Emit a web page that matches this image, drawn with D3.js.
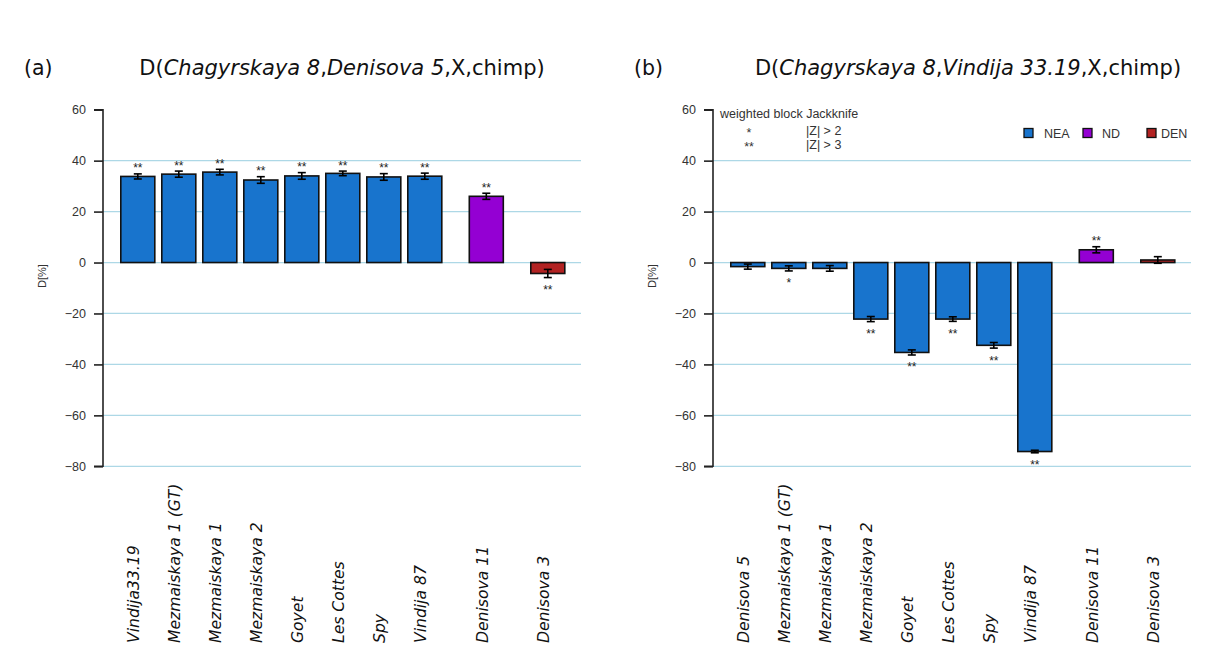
<!DOCTYPE html>
<html>
<head>
<meta charset="utf-8">
<script src="https://cdn.jsdelivr.net/npm/d3@7"></script>
<style>
  body { margin: 0; background: #fff; }
  svg { display: block; }
</style>
</head>
<body>
<script>
// panel (a): D(Chagyrskaya 8, Denisova 5, X, chimp)
const labelsA = ["Vindija33.19", "Mezmaiskaya 1 (GT)", "Mezmaiskaya 1", "Mezmaiskaya 2", "Goyet",
                 "Les Cottes", "Spy", "Vindija 87", "Denisova 11", "Denisova 3"];
const valuesA = [33.8, 34.7, 35.5, 32.4, 34.0, 35.0, 33.6, 33.9, 26.0, -4.3];
const errorsA = [1.0, 1.2, 1.1, 1.3, 1.3, 0.9, 1.3, 1.2, 1.2, 1.6];
const starsA  = ["**", "**", "**", "**", "**", "**", "**", "**", "**", "**"];
const groupsA = ["NEA", "NEA", "NEA", "NEA", "NEA", "NEA", "NEA", "NEA", "ND", "DEN"];

// panel (b): D(Chagyrskaya 8, Vindija 33.19, X, chimp)
const labelsB = ["Denisova 5", "Mezmaiskaya 1 (GT)", "Mezmaiskaya 1", "Mezmaiskaya 2", "Goyet",
                 "Les Cottes", "Spy", "Vindija 87", "Denisova 11", "Denisova 3"];
const valuesB = [-1.6, -2.3, -2.3, -22.2, -35.3, -22.2, -32.5, -74.2, 5.0, 1.0];
const errorsB = [1.0, 1.0, 1.1, 1.0, 1.0, 0.9, 1.1, 0.5, 1.2, 1.3];
const starsB  = ["", "*", "", "**", "**", "**", "**", "**", "**", ""];
const groupsB = groupsA;

const yTicks = [-80, -60, -40, -20, 0, 20, 40, 60];
const legendKeys = ["NEA", "ND", "DEN"];

const W = 1226, H = 664;
const color = d3.scaleOrdinal().domain(legendKeys).range(["#1874cd", "#9400d3", "#b22222"]);

const svg = d3.select("body").append("svg")
  .attr("width", W)
  .attr("height", H);

const y = d3.scaleLinear().domain([-80, 60]).range([466.3, 109.7]);

function slots(groups) {
  // one slot per bar, plus half a slot at each change of group
  let s = 0, out = [];
  groups.forEach((g, i) => {
    if (i > 0 && g !== groups[i - 1]) s += 0.5;
    out.push(s + i);
  });
  return out;
}

function drawPanel(ox, tag, titleX, titleParts, labels, values, errors, stars, groups) {
  const g = svg.append("g");
  const axisX = ox;
  const sl = slots(groups);
  const x = d3.scaleLinear().domain([0, 10]).range([ox + 34.8, ox + 444.8]);
  const bw = 34;

  // grid
  g.selectAll(".grid")
    .data(yTicks.filter(t => t < 60))
    .enter().append("line")
    .attr("x1", axisX).attr("x2", ox + 478)
    .attr("y1", d => y(d)).attr("y2", d => y(d))
    .attr("stroke", "#add8e6").attr("stroke-width", 1.3);

  // y axis
  const yAxis = d3.axisLeft(y).tickValues(yTicks).tickSize(9).tickPadding(8);
  const ax = g.append("g")
    .attr("transform", "translate(" + axisX + ",0)")
    .call(yAxis);
  ax.select(".domain").attr("stroke", "#222").attr("stroke-width", 1.6)
    .attr("d", "M-9," + y(60) + "H0V" + y(-80) + "H-9");
  ax.selectAll(".tick line").attr("stroke", "#222").attr("stroke-width", 1.6);
  ax.selectAll(".tick text")
    .attr("font-family", "Liberation Sans, Arial, sans-serif")
    .attr("font-size", 12.5).attr("fill", "#333")
    .text(d => d < 0 ? "\u2212" + Math.abs(d) : d);

  g.append("text")
    .attr("transform", "translate(" + (axisX - 57) + "," + 276 + ") rotate(-90)")
    .attr("text-anchor", "middle")
    .attr("font-family", "Liberation Sans, Arial, sans-serif")
    .attr("font-size", 11).attr("fill", "#333")
    .text("D[%]");

  // bars
  g.selectAll(".bar")
    .data(values)
    .enter().append("rect")
    .attr("x", (d, i) => x(sl[i]) - bw / 2)
    .attr("width", bw)
    .attr("y", d => y(Math.max(0, d)))
    .attr("height", d => Math.abs(y(d) - y(0)))
    .attr("fill", (d, i) => color(groups[i]))
    .attr("stroke", "#111").attr("stroke-width", 1.6);

  // error bars
  const eb = g.selectAll(".err")
    .data(values)
    .enter().append("g")
    .attr("stroke", "#000").attr("stroke-width", 1.6);
  eb.append("line")
    .attr("x1", (d, i) => x(sl[i])).attr("x2", (d, i) => x(sl[i]))
    .attr("y1", (d, i) => y(d + errors[i])).attr("y2", (d, i) => y(d - errors[i]));
  eb.append("line")
    .attr("x1", (d, i) => x(sl[i]) - 4).attr("x2", (d, i) => x(sl[i]) + 4)
    .attr("y1", (d, i) => y(d + errors[i])).attr("y2", (d, i) => y(d + errors[i]));
  eb.append("line")
    .attr("x1", (d, i) => x(sl[i]) - 4).attr("x2", (d, i) => x(sl[i]) + 4)
    .attr("y1", (d, i) => y(d - errors[i])).attr("y2", (d, i) => y(d - errors[i]));

  // significance stars
  g.selectAll(".star")
    .data(values)
    .enter().append("text")
    .attr("x", (d, i) => x(sl[i]))
    .attr("y", (d, i) => d >= 0 ? y(d + errors[i]) - 8 + 6.5 : y(d - errors[i]) + 10 + 6.5)
    .attr("text-anchor", "middle")
    .attr("font-family", "Liberation Sans, Arial, sans-serif")
    .attr("font-size", 12).attr("fill", "#222")
    .text((d, i) => stars[i]);

  // category labels
  g.selectAll(".lab")
    .data(labels)
    .enter().append("text")
    .attr("transform", (d, i) => "translate(" + (x(sl[i]) - 4) + ",643) rotate(-90)")
    .attr("dy", "0.35em")
    .attr("font-family", "DejaVu Sans, sans-serif")
    .attr("font-style", "italic")
    .attr("font-size", 15.6).attr("fill", "#111")
    .text(d => d);

  // panel tag and title
  g.append("text")
    .attr("x", ox - 79).attr("y", 75)
    .attr("font-family", "DejaVu Sans, sans-serif")
    .attr("font-size", 20.5).attr("fill", "#111")
    .text(tag);
  const t = g.append("text")
    .attr("x", titleX).attr("y", 75)
    .attr("text-anchor", "middle")
    .attr("font-family", "DejaVu Sans, sans-serif")
    .attr("font-size", 21).attr("fill", "#111");
  titleParts.forEach(p => {
    t.append("tspan").attr("font-style", p[1] ? "italic" : "normal").text(p[0]);
  });
  return g;
}

drawPanel(103, "(a)", 342,
  [["D(", 0], ["Chagyrskaya 8", 1], [",", 0], ["Denisova 5", 1], [",X,chimp)", 0]],
  labelsA, valuesA, errorsA, starsA, groupsA);

const gb = drawPanel(713, "(b)", 968,
  [["D(", 0], ["Chagyrskaya 8", 1], [",", 0], ["Vindija 33.19", 1], [",X,chimp)", 0]],
  labelsB, valuesB, errorsB, starsB, groupsB);

// Jackknife note
const note = gb.append("g")
  .attr("font-family", "Liberation Sans, Arial, sans-serif")
  .attr("font-size", 12.5).attr("fill", "#333");
note.append("text").attr("x", 720).attr("y", 118).text("weighted block Jackknife");
note.append("text").attr("x", 749).attr("y", 137).attr("text-anchor", "middle").text("*");
note.append("text").attr("x", 806).attr("y", 135).text("|Z| > 2");
note.append("text").attr("x", 749).attr("y", 151).attr("text-anchor", "middle").text("**");
note.append("text").attr("x", 806).attr("y", 149).text("|Z| > 3");

// legend
const legBoxX = [1024, 1083, 1147];
const legTextX = [1044, 1102, 1161];
const leg = gb.selectAll(".leg")
  .data(legendKeys)
  .enter().append("g");
leg.append("rect")
  .attr("x", (d, i) => legBoxX[i]).attr("y", 128.5).attr("width", 9).attr("height", 9)
  .attr("fill", d => color(d)).attr("stroke", "#111").attr("stroke-width", 1.3);
leg.append("text")
  .attr("x", (d, i) => legTextX[i]).attr("y", 137.5)
  .attr("font-family", "Liberation Sans, Arial, sans-serif")
  .attr("font-size", 12.5).attr("fill", "#333")
  .text(d => d);
</script>
</body>
</html>
